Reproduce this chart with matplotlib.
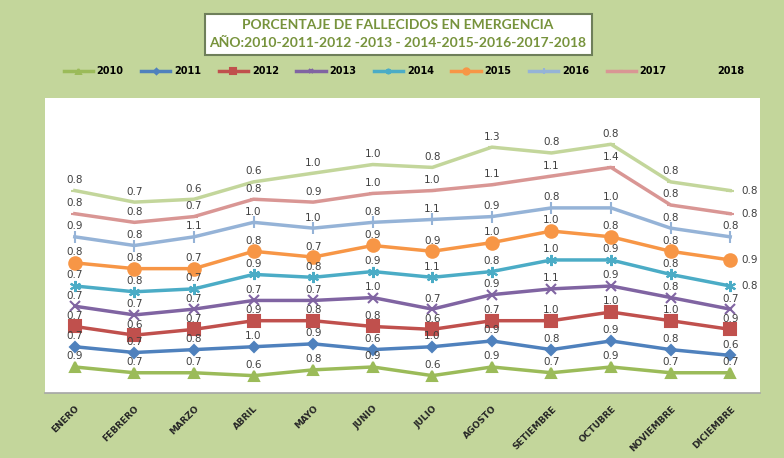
import matplotlib.pyplot as plt
import numpy as np
from matplotlib.patches import Rectangle

meses = ['ENERO', 'FEBRERO', 'MARZO', 'ABRIL', 'MAYO', 'JUNIO', 'JULIO',
         'AGOSTO', 'SETIEMBRE', 'OCTUBRE', 'NOVIEMBRE', 'DICIEMBRE']

anios = ['2010', '2011', '2012', '2013', '2014', '2015', '2016', '2017', '2018']

# porcentaje por mes, una lista por año (la grafica las apila)
v2010 = [0.9, 0.7, 0.7, 0.6, 0.8, 0.9, 0.6, 0.9, 0.7, 0.9, 0.7, 0.7]
v2011 = [0.7, 0.7, 0.8, 1.0, 0.9, 0.6, 1.0, 0.9, 0.8, 0.9, 0.8, 0.6]
v2012 = [0.7, 0.6, 0.7, 0.9, 0.8, 0.8, 0.6, 0.7, 1.0, 1.0, 1.0, 0.9]
v2013 = [0.7, 0.7, 0.7, 0.7, 0.7, 1.0, 0.7, 0.9, 1.1, 0.9, 0.8, 0.7]
v2014 = [0.7, 0.8, 0.7, 0.9, 0.8, 0.9, 1.1, 0.8, 1.0, 0.9, 0.8, 0.8]
v2015 = [0.8, 0.8, 0.7, 0.8, 0.7, 0.9, 0.9, 1.0, 1.0, 0.8, 0.8, 0.9]
v2016 = [0.9, 0.8, 1.1, 1.0, 1.0, 0.8, 1.1, 0.9, 0.8, 1.0, 0.8, 0.8]
v2017 = [0.8, 0.8, 0.7, 0.8, 0.9, 1.0, 1.0, 1.1, 1.1, 1.4, 0.8, 0.8]
v2018 = [0.8, 0.7, 0.6, 0.6, 1.0, 1.0, 0.8, 1.3, 0.8, 0.8, 0.8, 0.8]

series = [v2010, v2011, v2012, v2013, v2014, v2015, v2016, v2017, v2018]

colores = ['#9BBB59', '#4F81BD', '#C0504D', '#8064A2', '#4BACC6',
           '#F79646', '#95B3D7', '#D99694', '#C3D69B']
marcadores = ['^', 'D', 's', 'x', (6, 2, 0), 'o', '|', '_', '_']
tam = [7, 5.5, 8, 6.5, 8, 9, 8, 6, 6]

fondo = '#C3D69B'
fig = plt.figure(figsize=(7.84, 4.58), dpi=100, facecolor=fondo)
ax = fig.add_axes([45/784, 65/458, 715/784, 295/458])
ax.set_facecolor('white')

x = np.arange(len(meses))
acum = np.zeros(len(meses))
lineas = []
for i, vals in enumerate(series):
    acum = acum + np.array(vals)
    ln, = ax.plot(x, acum, color=colores[i], lw=2.5, marker=marcadores[i],
                  markersize=tam[i], markeredgewidth=1.5, label=anios[i])
    lineas.append(ln)
    for j, v in enumerate(vals):
        if j == len(meses) - 1 and anios[i] in ('2014', '2015', '2017', '2018'):
            off, ha, va = (8, 0), 'left', 'center'
        else:
            off, ha, va = (0, 4), 'center', 'bottom'
        ax.annotate(f'{v:.1f}', (x[j], acum[j]), xytext=off,
                    textcoords='offset points', ha=ha, va=va,
                    fontsize=7.5, color='#404040')

ax.set_xlim(-0.5, len(meses) - 0.5)
ax.set_ylim(0, 10.2)
ax.set_yticks([])
ax.set_xticks(x)
ax.set_xticklabels(meses, rotation=45, ha='right', rotation_mode='anchor',
                   fontsize=6.5, fontweight='bold', color='#262626')
ax.tick_params(axis='x', length=0, pad=8)
for s in ['top', 'right', 'left']:
    ax.spines[s].set_visible(False)
ax.spines['bottom'].set_color('#A6A6A6')
ax.spines['bottom'].set_linewidth(1.2)

# cuadro del titulo
fig.patches.append(Rectangle((205/784, 1 - 55/458), 387/784, 41/458,
                             transform=fig.transFigure, facecolor='white',
                             edgecolor='#6E7F5A', lw=1.5))
fig.text(398/784, 1 - 25/458, 'PORCENTAJE DE FALLECIDOS EN EMERGENCIA',
         ha='center', va='center', fontsize=10, fontweight='bold',
         family='Lato', color='#77933C')
fig.text(398/784, 1 - 43/458, 'AÑO:2010-2011-2012 -2013 - 2014-2015-2016-2017-2018',
         ha='center', va='center', fontsize=10, fontweight='bold',
         family='Lato', color='#77933C')

fig.legend(handles=lineas, loc='center', bbox_to_anchor=(404/784, 1 - 71/458),
           ncol=9, frameon=False, prop={'size': 7, 'weight': 'bold'},
           handlelength=3, columnspacing=1.8, handletextpad=0.4,
           markerscale=0.5)

fig.savefig('out.png', dpi=100, facecolor=fondo)
